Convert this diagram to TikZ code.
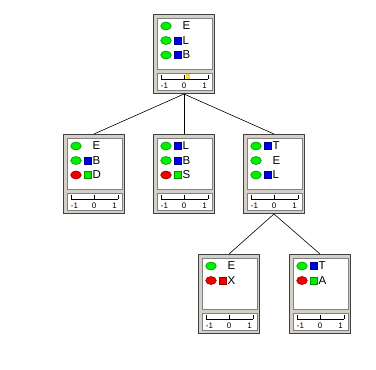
\documentclass[tikz,border=0pt]{standalone}
\usepackage{fontspec}
\setmainfont{Liberation Sans}
\usepackage{tikz}
\usetikzlibrary{positioning}
\definecolor{frame}{RGB}{212,208,200}
\definecolor{okgreen}{RGB}{0,240,0}
\definecolor{okgreendark}{RGB}{0,150,0}
\definecolor{badred}{RGB}{240,0,0}
\definecolor{badreddark}{RGB}{150,0,0}
\definecolor{sqblue}{RGB}{0,0,230}
\definecolor{marker}{RGB}{245,215,70}

\def\nosq{x}
% one network box: name, top-left corner, rows {dot/square/letter}
\newcommand{\netbox}[3]{%
  \node[netframe, anchor=north west] (#1) at (#2) {};
  \begin{scope}[shift={(#1.north west)}]
    \draw[panel] (4,4) rectangle (59,55);
    \draw[panel] (4,59) rectangle (59,76);
    \draw[scaleline] (8,65) -- (55,65);
    \foreach \tx in {8,31.5,55}
      \draw[scaleline] (\tx,61) -- (\tx,65);
    \node[scalelbl] at (11.5,72) {-1};
    \node[scalelbl] at (31,72) {0};
    \node[scalelbl] at (51.5,72) {1};
    \foreach \dc/\sc/\lt [count=\i] in {#3} {
      \pgfmathsetmacro{\ry}{12+(\i-1)*14.5}
      \draw[dot=\dc] (13,\ry) ellipse (5.3 and 4);
      \ifx\sc\nosq\else
        \draw[sqr=\sc] (21.5,\ry-3.6) rectangle (28.5,\ry+3.6);
      \fi
      \node[letter] at (29.5,\ry) {\lt};
    }
  \end{scope}}

\begin{document}
\begin{tikzpicture}[
  x=1pt, y=-1pt,
  netframe/.style={rectangle, draw=black!75, fill=frame, line width=1pt,
                   minimum width=61, minimum height=79, inner sep=0pt},
  panel/.style={draw=gray, fill=white, line width=0.8pt},
  scaleline/.style={draw=black, line width=0.6pt},
  scalelbl/.style={inner sep=0pt, font=\fontsize{8}{8}\selectfont},
  letter/.style={anchor=west, inner sep=0pt, font=\fontsize{11.5}{11.5}\selectfont},
  dot/.style={fill=#1, draw=#1dark, line width=0.6pt},
  sqr/.style={fill=#1, draw=#1!60!black, line width=0.5pt},
  link/.style={draw=black, line width=0.6pt}]

  \useasboundingbox (0,0) rectangle (376,370);

  % root
  \netbox{root}{153,14}{okgreen/x/E, okgreen/sqblue/L, okgreen/sqblue/B}
  \begin{scope}[shift={(root.north west)}]
    \fill[marker] (33,60) rectangle (37,64.5);
  \end{scope}

  % second level
  \netbox{lft}{63,134}{okgreen/x/E, okgreen/sqblue/B, badred/okgreen/D}
  \netbox{mid}{153,134}{okgreen/sqblue/L, okgreen/sqblue/B, badred/okgreen/S}
  \netbox{rgt}{243,134}{okgreen/sqblue/T, okgreen/x/E, okgreen/sqblue/L}

  % third level
  \netbox{rgtl}{198,254}{okgreen/x/E, badred/badred/X}
  \netbox{rgtr}{289,254}{okgreen/sqblue/T, badred/okgreen/A}

  \draw[link] (root.south) -- (lft.north);
  \draw[link] (root.south) -- (mid.north);
  \draw[link] (root.south) -- (rgt.north);
  \draw[link] (rgt.south) -- (rgtl.north);
  \draw[link] (rgt.south) -- (rgtr.north);
\end{tikzpicture}
\end{document}
